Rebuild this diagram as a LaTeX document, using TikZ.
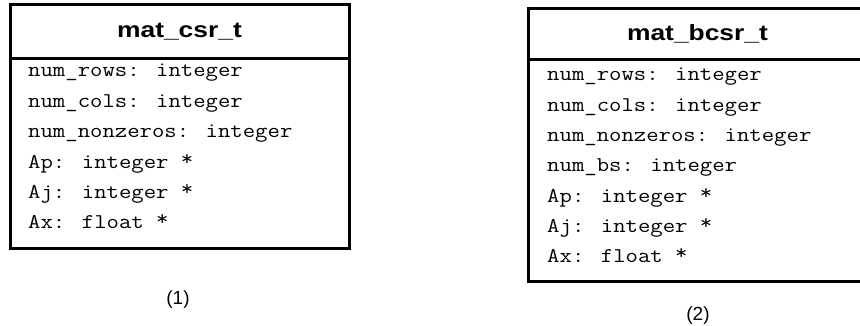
\documentclass[tikz,border=0pt]{standalone}
\usepackage{fontspec}
\setmainfont{Liberation Sans}
\newfontfamily\titlefont[FakeStretch=1.2]{Liberation Sans}

% pointer star set high, as in Courier
\newcommand{\ptrstar}{\raisebox{3pt}{*}}

\tikzset{
  classpart/.style={draw=black, line width=3pt, fill=white, inner sep=0pt, outer sep=0pt, anchor=north west},
  classtitle/.style={font=\titlefont\bfseries\fontsize{22}{26}\selectfont, anchor=base, inner sep=0pt},
  field/.style={font=\ttfamily\fontsize{21}{24}\selectfont, xscale=1.145, anchor=base west, inner sep=0pt},
  caption/.style={font=\fontsize{19}{22}\selectfont, inner sep=0pt}
}

\begin{document}
\begin{tikzpicture}[x=1pt, y=-1pt]
  \useasboundingbox (0,0) rectangle (860,326);
  \clip (0,0) rectangle (860,326);

  % class (1): mat_csr_t
  \node[classpart, minimum width=339pt, minimum height=53.5pt] (csrhead) at (10,5) {};
  \node[classpart, minimum width=339pt, minimum height=189.5pt] (csrbody) at (10,58.5) {};
  \node[classtitle] (csrtitle) at (179.5,37.3) {mat\_csr\_t};
  \node[field] (csrf1) at (28,77)    {num\_rows: integer};
  \node[field] (csrf2) at (28,107.4) {num\_cols: integer};
  \node[field] (csrf3) at (28,137.8) {num\_nonzeros: integer};
  \node[field] (csrf4) at (28,168.2) {Ap: integer \ptrstar};
  \node[field] (csrf5) at (28,198.6) {Aj: integer \ptrstar};
  \node[field] (csrf6) at (28,229)   {Ax: float \ptrstar};
  \node[caption] (cap1) at (178,300) {(1)};

  % class (2): mat_bcsr_t
  \node[classpart, minimum width=339pt, minimum height=51pt] (bcsrhead) at (528,9) {};
  \node[classpart, minimum width=339pt, minimum height=221pt] (bcsrbody) at (528,60) {};
  \node[classtitle] (bcsrtitle) at (697.5,40.7) {mat\_bcsr\_t};
  \node[field] (bcsrf1) at (547,81)    {num\_rows: integer};
  \node[field] (bcsrf2) at (547,111.3) {num\_cols: integer};
  \node[field] (bcsrf3) at (547,141.6) {num\_nonzeros: integer};
  \node[field] (bcsrf4) at (547,171.9) {num\_bs: integer};
  \node[field] (bcsrf5) at (547,202.2) {Ap: integer \ptrstar};
  \node[field] (bcsrf6) at (547,232.5) {Aj: integer \ptrstar};
  \node[field] (bcsrf7) at (547,262.8) {Ax: float \ptrstar};
  \node[caption] (cap2) at (698,316) {(2)};
\end{tikzpicture}
\end{document}
